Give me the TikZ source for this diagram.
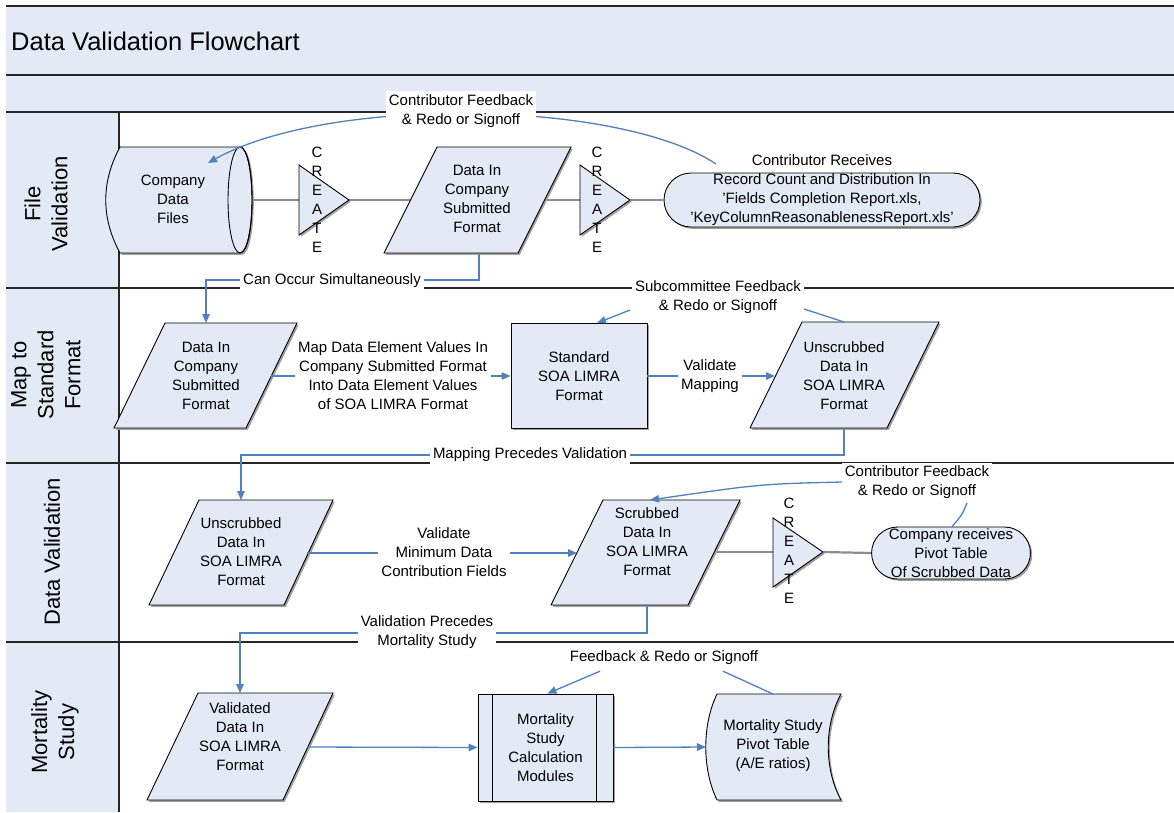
\documentclass[tikz,border=0pt]{standalone}
\usepackage{fontspec}
\setmainfont{Liberation Sans}
\usetikzlibrary{shapes.geometric,shapes.misc,arrows.meta,calc,shadows}
\definecolor{lb}{HTML}{E4EAF5}
\definecolor{ob}{HTML}{4F81BD}
\definecolor{cg}{HTML}{8C8C8C}
\definecolor{shd}{HTML}{A0A0A0}
\newcommand\fs{\fontsize{15}{19}\selectfont}
\newcommand\hfs{\fontsize{22}{27}\selectfont}
\newcommand\tfs{\fontsize{25.5}{30}\selectfont}
\begin{document}
\begin{tikzpicture}[x=1pt,y=-1pt,
  lane/.style={draw=black!85,line width=1.6pt},
  shp/.style={draw=black,line width=0.9pt,fill=lb,drop shadow={shadow xshift=1.8pt,shadow yshift=-1.8pt,opacity=1,fill=shd}},
  bl/.style={draw=ob,line width=1.3pt},
  blarr/.style={bl,-{Triangle[length=9pt,width=7.5pt]}},
  gr/.style={draw=cg,line width=2.2pt},
  txt/.style={font=\fs,align=center,inner sep=0pt},
  lbl/.style={font=\fs,align=center,fill=white,inner xsep=3pt,inner ysep=4pt},
  hdr/.style={font=\hfs,align=center,rotate=90,inner sep=0pt},
  crt/.style={font=\fs,align=center,inner sep=0pt},
]
\useasboundingbox (0,0) rectangle (1174,812);
\fill[white] (0,0) rectangle (1174,812);
% bands and lanes
\fill[lb] (6,6) rectangle (1174,112);
\fill[lb] (6,112) rectangle (119,812);
\draw[lane] (6,6) -- (1174,6);
\draw[lane] (6,75) -- (1174,75);
\draw[lane] (6,112) -- (1174,112);
\draw[lane] (6,288) -- (1174,288);
\draw[lane] (6,463) -- (1174,463);
\draw[lane] (6,642) -- (1174,642);
\draw[lane] (119,112) -- (119,812);
\node[font=\tfs,anchor=west,inner sep=0pt] (title) at (11,41) {Data Validation Flowchart};
\node[hdr] (h1) at (46,204) {File\\Validation};
\node[hdr] (h2) at (46,375) {Map to\\Standard\\Format};
\node[hdr] (h3) at (52,552) {Data Validation};
\node[hdr] (h4) at (55,732) {Mortality\\Study};

% ---------- lane 1 ----------
\coordinate (cylr) at (252,200);
\coordinate (tr1l) at (299,200);
\coordinate (tr1r) at (349,200);
\coordinate (p1l) at (411,200);
\coordinate (p1r) at (544,200);
\coordinate (p1b) at (479,253);
\coordinate (tr2l) at (580,200);
\coordinate (tr2r) at (630,200);
\coordinate (fb1e) at (716,164);
\coordinate (cyltip) at (208,163);

\draw[gr] (cylr) -- (tr1l);
\draw[gr] (tr1r) -- (p1l);
\draw[gr] (p1r) -- (tr2l);

\filldraw[shp] (120,147) -- (240,147) .. controls (256,147) and (256,253) .. (240,253) -- (120,253) .. controls (101,218) and (101,182) .. (120,147) -- cycle;
\draw[line width=0.9pt] (240,200) ellipse [x radius=12, y radius=53];
\node[txt] (cyl) at (173,199) {Company\\Data\\Files};

\filldraw[shp] (299,165) -- (349,200) -- (299,235) -- cycle;
\node[crt] (cr1) at (317,200) {C\\R\\E\\A\\T\\E};

\filldraw[shp] (437,147) -- (571,147) -- (518,253) -- (384,253) -- cycle;
\node[txt] (p1) at (477,199) {Data In\\Company\\Submitted\\Format};

\filldraw[shp] (580,165) -- (630,200) -- (580,235) -- cycle;
\node[crt] (cr2) at (597,200) {C\\R\\E\\A\\T\\E};

\node[shp,rounded rectangle,minimum width=316pt,minimum height=54pt,inner sep=0pt] (t1) at (822,200) {};
\draw[gr] (tr2r) -- (t1.west);
\node[txt] (t1t) at (822,190) {Contributor Receives\\Record Count and Distribution In\\'Fields Completion Report.xls,\\'KeyColumnReasonablenessReport.xls'};

\draw[blarr] (fb1e) .. controls (620,100) and (330,95) .. (cyltip);
\node[lbl] (fb1) at (461,111) {Contributor Feedback\\\& Redo or Signoff};

% ---------- lane 2 ----------
\coordinate (p2t) at (206,323);
\coordinate (p2r) at (271,376);
\coordinate (p3l) at (775,376);
\coordinate (p3t) at (844,322);
\coordinate (p3b) at (844,428);
\coordinate (p4t) at (241,500);

\draw[blarr] (p1b) -- ++(0,27) -| (p2t);
\node[lbl] (co) at (332,281) {Can Occur Simultaneously};

\filldraw[shp] (165,323) -- (297,323) -- (246,428) -- (114,428) -- cycle;
\node[txt] (p2) at (206,376) {Data In\\Company\\Submitted\\Format};

\node[shp,minimum width=136pt,minimum height=105pt,font=\fs,align=center,inner sep=0pt] (std) at (579,376) {Standard\\SOA LIMRA\\Format};

\draw[blarr] (p2r) -- (std.west);
\node[lbl,inner ysep=1pt] (map) at (393,376) {Map Data Element Values In\\Company Submitted Format\\Into Data Element Values\\of SOA LIMRA Format};

\filldraw[shp] (802,322) -- (939,322) -- (887,428) -- (750,428) -- cycle;
\node[txt] (p3) at (844,376) {Unscrubbed\\Data In\\SOA LIMRA\\Format};

\draw[blarr] (std.east) -- (p3l);
\node[lbl,inner ysep=1pt] (vm) at (710,376) {Validate\\Mapping};

\draw[bl] (p3t) -- ($(718,297)+(83,11)$);
\draw[blarr] ($(718,297)+(-88,13)$) -- ($(std.north)+(18,0)$);
\node[lbl,inner ysep=3pt] (fb2) at (718,297) {Subcommittee Feedback\\\& Redo or Signoff};

\draw[blarr] (p3b) -- ++(0,27) -| (p4t);
\node[lbl] (mp) at (530,455) {Mapping Precedes Validation};

% ---------- lane 3 ----------
\coordinate (p4r) at (307,553);
\coordinate (p5l) at (577,553);
\coordinate (p5r) at (714,552);
\coordinate (p5t) at (650,500);
\coordinate (p5b) at (647,605);
\coordinate (tr3l) at (773,552);
\coordinate (tr3r) at (823,552);
\coordinate (p6t) at (240,693);

\filldraw[shp] (199,500) -- (333,500) -- (284,605) -- (149,605) -- cycle;
\node[txt] (p4) at (241,552) {Unscrubbed\\Data In\\SOA LIMRA\\Format};

\draw[blarr] (p4r) -- (p5l);
\node[lbl,inner ysep=1pt] (vmin) at (444,552) {Validate\\Minimum Data\\Contribution Fields};

\draw[gr] (p5r) -- (tr3l);
\filldraw[shp] (603,500) -- (740,500) -- (688,605) -- (551,605) -- cycle;
\node[txt] (p5) at (647,542) {Scrubbed\\Data In\\SOA LIMRA\\Format};

\filldraw[shp] (773,518) -- (823,552) -- (773,587) -- cycle;
\node[crt] (cr3) at (789,551) {C\\R\\E\\A\\T\\E};

\node[shp,rounded rectangle,minimum width=136pt,minimum height=52pt,font=\fs,align=center,inner sep=0pt] (t3) at (951,553) {Company receives\\Pivot Table\\Of Scrubbed Data};
\draw[gr] (tr3r) -- (t3.west);

\draw[bl] ($(t3.north)+(1,0)$) .. controls (962,515) .. (967,503);
\draw[blarr] (842,482) .. controls (760,484) .. (p5t);
\node[lbl,inner ysep=3pt] (fb3) at (917,482) {Contributor Feedback\\\& Redo or Signoff};

\draw[blarr] (p5b) -- ++(0,28) -| (p6t);
\node[lbl,inner ysep=2pt] (vp) at (427,632) {Validation Precedes\\Mortality Study};

% ---------- lane 4 ----------
\coordinate (p6r) at (307,747);
\coordinate (sdl) at (706,747);
\coordinate (sdt) at (773,694);

\filldraw[shp] (198,693) -- (333,693) -- (283,800) -- (147,800) -- cycle;
\node[txt] (p6) at (240,737) {Validated\\Data In\\SOA LIMRA\\Format};

\node[shp,minimum width=135pt,minimum height=107pt,font=\fs,align=center,inner sep=0pt] (box) at (545.5,747.5) {Mortality\\Study\\Calculation\\Modules};
\draw[line width=0.9pt] ($(box.north west)+(15,0)$) -- ($(box.south west)+(15,0)$);
\draw[line width=0.9pt] ($(box.north east)+(-17,0)$) -- ($(box.south east)+(-17,0)$);

\filldraw[shp] (717,694) -- (841,694) .. controls (824,725) and (824,769) .. (841,800) -- (717,800) .. controls (702,769) and (702,725) .. (717,694) -- cycle;
\node[txt] (sd) at (773,746) {Mortality Study\\Pivot Table\\(A/E ratios)};

\draw[blarr] (p6r) -- (box.west);
\draw[blarr] (box.east) -- (sdl);

\node[font=\fs,inner ysep=4pt] (fb4) at (664,658) {Feedback \& Redo or Signoff};
\draw[bl] ($(fb4.south)+(59,2)$) -- (sdt);
\draw[blarr] ($(fb4.south)+(-64,2)$) -- ($(box.north)+(2,0)$);
\end{tikzpicture}
\end{document}
